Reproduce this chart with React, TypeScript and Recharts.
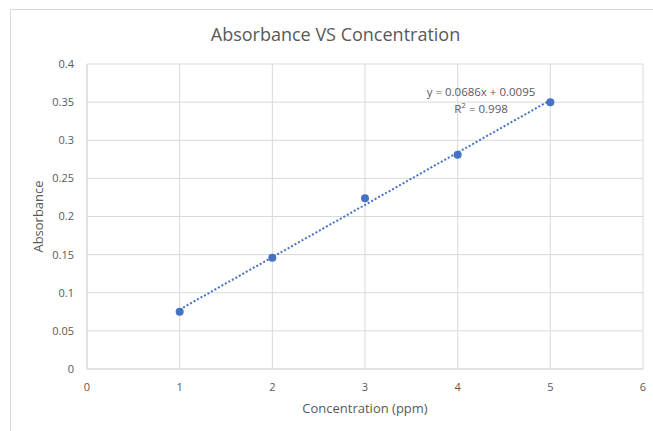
import React from 'react';
import { ScatterChart, Scatter, XAxis, YAxis, CartesianGrid } from 'recharts';

const concentration = [1, 2, 3, 4, 5];
const absorbance = [0.075, 0.146, 0.224, 0.281, 0.35];
const trendX = [1, 5];
const trendY = [0.078, 0.3525];
const xTicks = [0, 1, 2, 3, 4, 5, 6];
const yTicks = [0, 0.05, 0.1, 0.15, 0.2, 0.25, 0.3, 0.35, 0.4];
const title = 'Absorbance VS Concentration';
const equation = 'y = 0.0686x + 0.0095';
const rSquared = '0.998';

const points = concentration.map((x, i) => ({ x, y: absorbance[i] }));
const trend = trendX.map((x, i) => ({ x, y: trendY[i] }));

const FONT = '"Open Sans", "Noto Sans", sans-serif';
const TEXT = '#595959';
const GRID = '#d9d9d9';
const BLUE = '#4472C4';

export default function App() {
  return (
    <div style={{ position: 'absolute', left: 0, top: 0, width: 653, height: 431, overflow: 'hidden', background: '#fff', fontFamily: FONT }}>
      <div style={{ position: 'absolute', left: 10, top: 9, width: 700, height: 500, borderTop: `1px solid ${GRID}`, borderLeft: `1px solid ${GRID}` }} />
      <div style={{ position: 'absolute', left: 0, width: 671, top: 21, textAlign: 'center', fontSize: 18, color: TEXT, lineHeight: '26px' }}>{title}</div>
      <ScatterChart width={653} height={431} margin={{ top: 64, right: 10, bottom: 0, left: 27 }} style={{ position: 'absolute', left: 0, top: 0 }}>
        <CartesianGrid stroke={GRID} strokeWidth={1} />
        <XAxis
          type="number"
          dataKey="x"
          domain={[0, 6]}
          ticks={xTicks}
          tickLine={false}
          tickSize={0}
          tickMargin={14}
          height={62}
          stroke={GRID}
          tick={{ fill: TEXT, fontSize: 11, fontFamily: FONT }}
          label={({ viewBox }: any) => (
            <text x={viewBox.x + viewBox.width / 2} y={viewBox.y + 44} textAnchor="middle" fill={TEXT} fontSize={13} fontFamily={FONT}>
              Concentration (ppm)
            </text>
          )}
        />
        <YAxis
          type="number"
          dataKey="y"
          domain={[0, 0.4]}
          ticks={yTicks}
          tickLine={false}
          tickSize={0}
          tickMargin={13}
          width={60}
          stroke={GRID}
          tick={{ fill: TEXT, fontSize: 11, fontFamily: FONT }}
          label={({ viewBox }: any) => {
            const cx = viewBox.x + 16;
            const cy = viewBox.y + viewBox.height / 2;
            return (
              <text x={cx} y={cy} transform={`rotate(-90 ${cx} ${cy})`} textAnchor="middle" fill={TEXT} fontSize={13} fontFamily={FONT}>
                Absorbance
              </text>
            );
          }}
        />
        <Scatter
          data={trend}
          line={{ stroke: BLUE, strokeWidth: 2, strokeDasharray: '2 2' }}
          shape={() => <g />}
          isAnimationActive={false}
        />
        <Scatter data={points} fill={BLUE} shape={(p: any) => <circle cx={p.cx} cy={p.cy} r={4} fill={BLUE} />} isAnimationActive={false} />
      </ScatterChart>
      <div style={{ position: 'absolute', left: 416, width: 130, top: 83, textAlign: 'center', fontSize: 11.5, color: TEXT, lineHeight: '17px' }}>
        <div>{equation}</div>
        <div>R<sup style={{ fontSize: 8, verticalAlign: 'top', lineHeight: '10px' }}>2</sup> = {rSquared}</div>
      </div>
    </div>
  );
}
